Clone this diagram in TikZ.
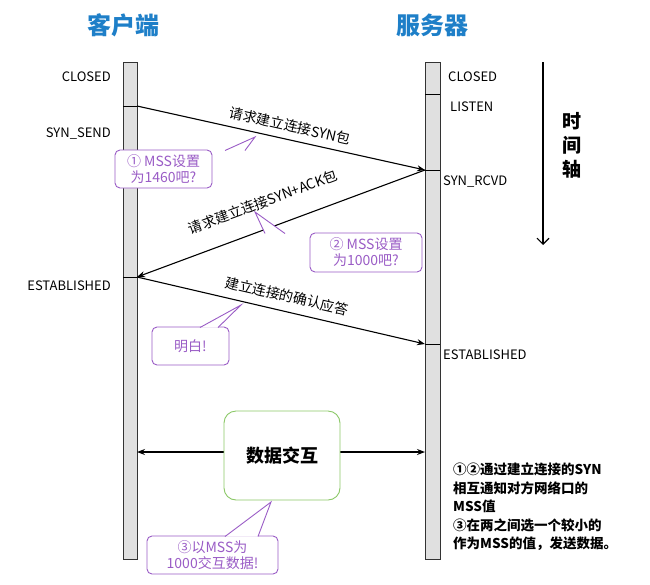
\documentclass[tikz,border=0pt]{standalone}
\usepackage{fontspec}
\setmainfont{Noto Sans CJK SC}
\usetikzlibrary{arrows.meta}
\definecolor{tblue}{HTML}{1E7FC8}
\definecolor{pur}{HTML}{9A5CC6}
\definecolor{grn}{HTML}{8BC867}
\begin{document}
\begin{tikzpicture}[x=1pt,y=-1pt,
  bar/.style={draw=black!80,fill=black!12,line width=0.8pt},
  st/.style={font=\fontsize{13}{15}\selectfont,inner sep=0pt},
  msg/.style={-{Stealth[length=8pt,width=6pt]},line width=1.1pt},
  ml/.style={font=\fontsize{14}{16}\selectfont,inner sep=1pt},
  call/.style={draw=pur,fill=white,rounded corners=5pt,line width=0.9pt,text=pur,font=\fontsize{14}{16}\selectfont,align=center,inner sep=0pt}]
\useasboundingbox (0,0) rectangle (650,584);
\node[text=tblue,font=\fontsize{24}{26}\selectfont\bfseries] (tc) at (123,25) {客户端};
\node[text=tblue,font=\fontsize{24}{26}\selectfont\bfseries] (ts) at (432,25) {服务器};
\draw[bar] (123,62) rectangle (137,559);
\draw[bar] (425,62) rectangle (440,559);
\draw[line width=0.8pt] (123,106)--(137,106) (123,277)--(137,277);
\draw[line width=0.8pt] (425,94)--(440,94) (425,170)--(440,170) (425,344)--(440,344);
\coordinate (c1) at (137,106); \coordinate (s1) at (425,170);
\coordinate (c2) at (137,277); \coordinate (s2) at (425,344);
\coordinate (dl) at (137,452); \coordinate (dr) at (425,452);
\node[st,anchor=east] (l1) at (111,77) {CLOSED};
\node[st,anchor=east] (l2) at (111,134) {SYN\_SEND};
\node[st,anchor=east] (l3) at (111,286) {ESTABLISHED};
\node[st,anchor=west] (r1) at (448,77) {CLOSED};
\node[st,anchor=west] (r2) at (450,107) {LISTEN};
\node[st,anchor=west] (r3) at (443,182) {SYN\_RCVD};
\node[st,anchor=west] (r4) at (443,355) {ESTABLISHED};
\draw[msg] (c1)--(s1);
\draw[msg] (s1)--(c2);
\draw[msg] (c2)--(s2);
\node[ml,rotate=-12.5] (m1) at (290,126) {请求建立连接SYN包};
\node[ml,rotate=20.4] (m2) at (263,202) {请求建立连接SYN+ACK包};
\node[ml,rotate=-13] (m3) at (287,296) {建立连接的确认应答};
% time axis
\coordinate (t1) at (543,62); \coordinate (t2) at (543,245);
\draw[-{Straight Barb[length=6pt]},line width=1.1pt] (t1)--(t2);
\node[font=\fontsize{19}{24}\selectfont\bfseries,align=center] (ta) at (572,145) {时\\间\\轴};
% callouts
\node[call,minimum width=97pt,minimum height=38pt] (b1) at (163.5,169) {① MSS设置\\为1460吧?};
\filldraw[draw=pur,fill=white,line width=0.9pt] (225,150.5)--(255,137)--(245,150.5);
\node[call,minimum width=112pt,minimum height=39pt] (b2) at (366,252.5) {② MSS设置\\为1000吧?};
\filldraw[draw=pur,fill=white,line width=0.9pt] (265,233.5)--(255,212)--(285,233.5);
\node[call,minimum width=77pt,minimum height=38pt] (b3) at (190.5,346) {明白!};
\filldraw[draw=pur,fill=white,line width=0.9pt] (200,327.5)--(241,305)--(218,327.5);
\draw[-{Stealth[length=8pt,width=6pt]},line width=1.1pt] (282,452)--(dl);
\draw[-{Stealth[length=8pt,width=6pt]},line width=1.1pt] (282,452)--(dr);
\node[draw=grn,fill=white,rounded corners=12pt,line width=0.9pt,minimum width=116pt,minimum height=89pt,font=\fontsize{18}{20}\selectfont\bfseries] (db) at (282,455.5) {数据交互};
\node[call,minimum width=131pt,minimum height=38pt] (b4) at (212.5,555) {③以MSS为\\1000交互数据!};
\filldraw[draw=pur,fill=white,line width=0.9pt] (225,536.5)--(271,502)--(258,536.5);
\node[anchor=north west,align=left,font=\fontsize{13.5}{18.5}\selectfont\bfseries,inner sep=0pt] (nt) at (453,463) {①②通过建立连接的SYN\\相互通知对方网络口的\\MSS值\\③在两之间选一个较小的\\作为MSS的值，发送数据。};
\end{tikzpicture}
\end{document}
